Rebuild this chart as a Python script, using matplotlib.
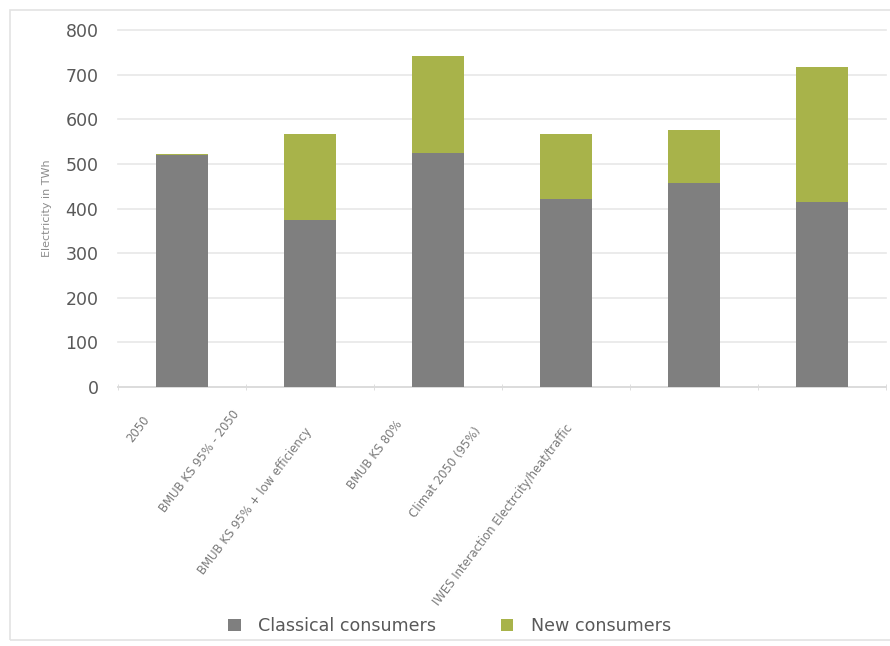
import matplotlib.pyplot as plt
from matplotlib.patches import Rectangle
from matplotlib.transforms import ScaledTranslation

# scenario names and values (TWh)
scenarios = ['2050', 'BMUB KS 95% - 2050', 'BMUB KS 95% + low efficiency',
             'BMUB KS 80%', 'Climat 2050 (95%)',
             'IWES Interaction Electrcity/heat/traffic']
classical = [520, 375, 525, 422, 457, 415]
new = [3, 193, 216, 146, 118, 301]

grey = '#7f7f7f'
green = '#a8b34a'
txt = '#595959'

fig = plt.figure(figsize=(8.9, 6.46), dpi=100)
# light frame around the chart area
fig.patches.append(Rectangle((10 / 890, 6 / 646), 1.0, 630 / 646,
                             transform=fig.transFigure, fill=False,
                             edgecolor='#e3e3e3', linewidth=1.2))

ax = fig.add_axes([118 / 890, 1 - 387 / 646, 768 / 890, 357 / 646])
x = range(len(scenarios))
ax.bar(x, classical, width=0.4, color=grey, label='Classical consumers', zorder=3)
ax.bar(x, new, width=0.4, bottom=classical, color=green, label='New consumers', zorder=3)

ax.set_xlim(-0.5, len(scenarios) - 0.5)
ax.set_ylim(0, 800)
ax.set_yticks(range(0, 801, 100))
ax.yaxis.grid(True, color='#e8e8e8', linewidth=1.2, zorder=0)
for gl in ax.get_ygridlines():
    gl.set_clip_on(False)
ax.tick_params(axis='y', length=0, labelsize=12.5, labelcolor=txt, pad=14)
for s in ['top', 'right', 'left']:
    ax.spines[s].set_visible(False)
ax.spines['bottom'].set_color('#d9d9d9')
ax.spines['bottom'].set_linewidth(1.2)

# boundary ticks between categories
ax.set_xticks([i - 0.5 for i in range(len(scenarios) + 1)], minor=True)
ax.tick_params(axis='x', which='minor', length=4, color='#d9d9d9', direction='inout')
ax.set_xticks(list(x))
ax.set_xticklabels(scenarios, rotation=53, ha='right', va='center',
                   rotation_mode='anchor', fontsize=8.4, color='#7a7a7a')
ax.tick_params(axis='x', which='major', length=0, pad=0)

# shift labels to where the original places them
shift_x = [-35, -73, -129, -166, -215, -252]
shift_y = [-30, -25, -42, -35, -42, -39]
for lab, dx, dy in zip(ax.get_xticklabels(), shift_x, shift_y):
    lab.set_transform(lab.get_transform() +
                      ScaledTranslation(dx / 100, dy / 100, fig.dpi_scale_trans))

ax.set_ylabel('Electricity in TWh', fontsize=8, color='#8c8c8c', labelpad=10)

fig.legend(loc='center', bbox_to_anchor=(0.505, 1 - 626 / 646), ncol=2,
           frameon=False, fontsize=12.6, labelcolor=txt, handlelength=0.7,
           handleheight=0.7, columnspacing=3.7, handletextpad=1.0)

fig.savefig('out.png', dpi=100)
